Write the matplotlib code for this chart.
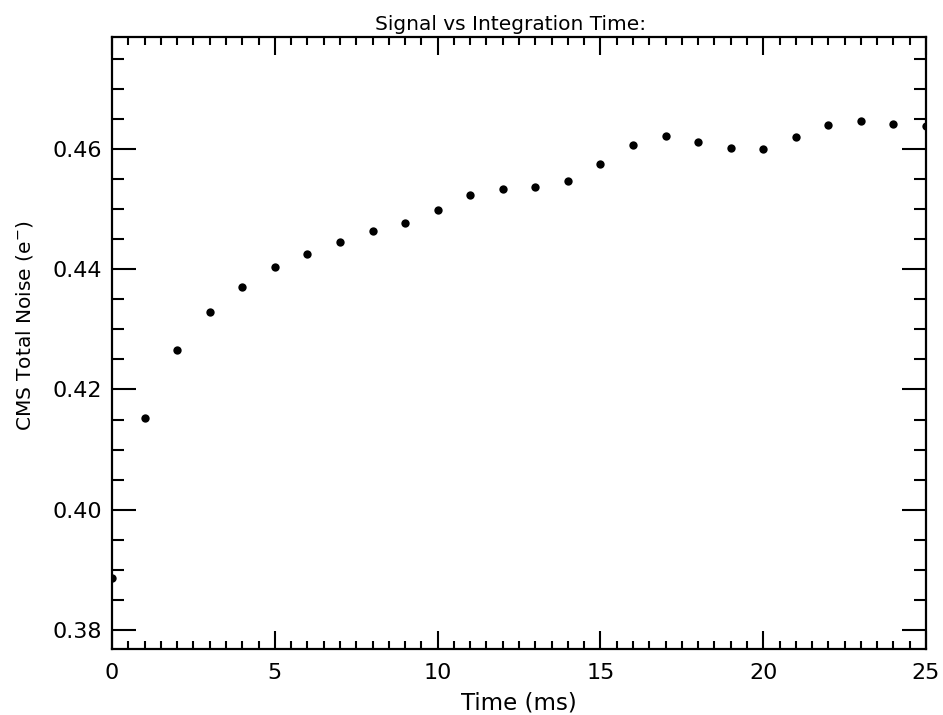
import numpy as np
import matplotlib
matplotlib.use('Agg')
from matplotlib import pyplot as plt
from matplotlib.ticker import MultipleLocator

# integration time (ms) and measured noise
time_ms = [0, 1, 2, 3, 4, 5, 6, 7, 8, 9, 10, 11, 12,
           13, 14, 15, 16, 17, 18, 19, 20, 21, 22, 23, 24, 25]
noise = [0.3886, 0.4152, 0.4266, 0.4329, 0.4370, 0.4403, 0.4426, 0.4446,
         0.4463, 0.4476, 0.4498, 0.4523, 0.4533, 0.4537, 0.4547, 0.4575,
         0.4606, 0.4622, 0.4612, 0.4602, 0.4600, 0.4619, 0.4639, 0.4646,
         0.4642, 0.4638]

plt.rcParams['font.family'] = ['DejaVu Sans']

fig = plt.figure(figsize=(9.43, 7.15), dpi=100)
ax = fig.add_axes([0.1188, 0.0923, 0.8632, 0.8559])

ax.plot(time_ms, noise, 'o', color='black', ms=6, mew=0)

ax.set_xlim(0, 25)
ax.set_ylim(0.37685, 0.4786)

ax.xaxis.set_major_locator(MultipleLocator(5))
ax.xaxis.set_minor_locator(MultipleLocator(0.5))
ax.yaxis.set_major_locator(MultipleLocator(0.02))
ax.yaxis.set_minor_locator(MultipleLocator(0.005))
ax.yaxis.set_major_formatter(matplotlib.ticker.FormatStrFormatter('%.2f'))

ax.tick_params(which='both', direction='in', top=True, right=True,
               width=1.5, labelsize=16, colors='black')
ax.tick_params(axis='x', which='major', length=13, pad=10)
ax.tick_params(axis='x', which='minor', length=6)
ax.tick_params(axis='y', which='major', length=17, pad=7)
ax.tick_params(axis='y', which='minor', length=8.6)
for s in ax.spines.values():
    s.set_linewidth(1.6)

ax.set_xlabel('Time (ms)', fontsize=16.5, labelpad=6)
ax.set_ylabel('CMS Total Noise (e$^{-}$)', fontsize=14.5)
ax.yaxis.label.set_va('center')
ax.yaxis.set_label_coords(-0.108, 0.528)
ax.set_title('Signal vs Integration Time:', fontsize=14.5, pad=5, x=0.489)

plt.savefig('out.png', dpi=100)
